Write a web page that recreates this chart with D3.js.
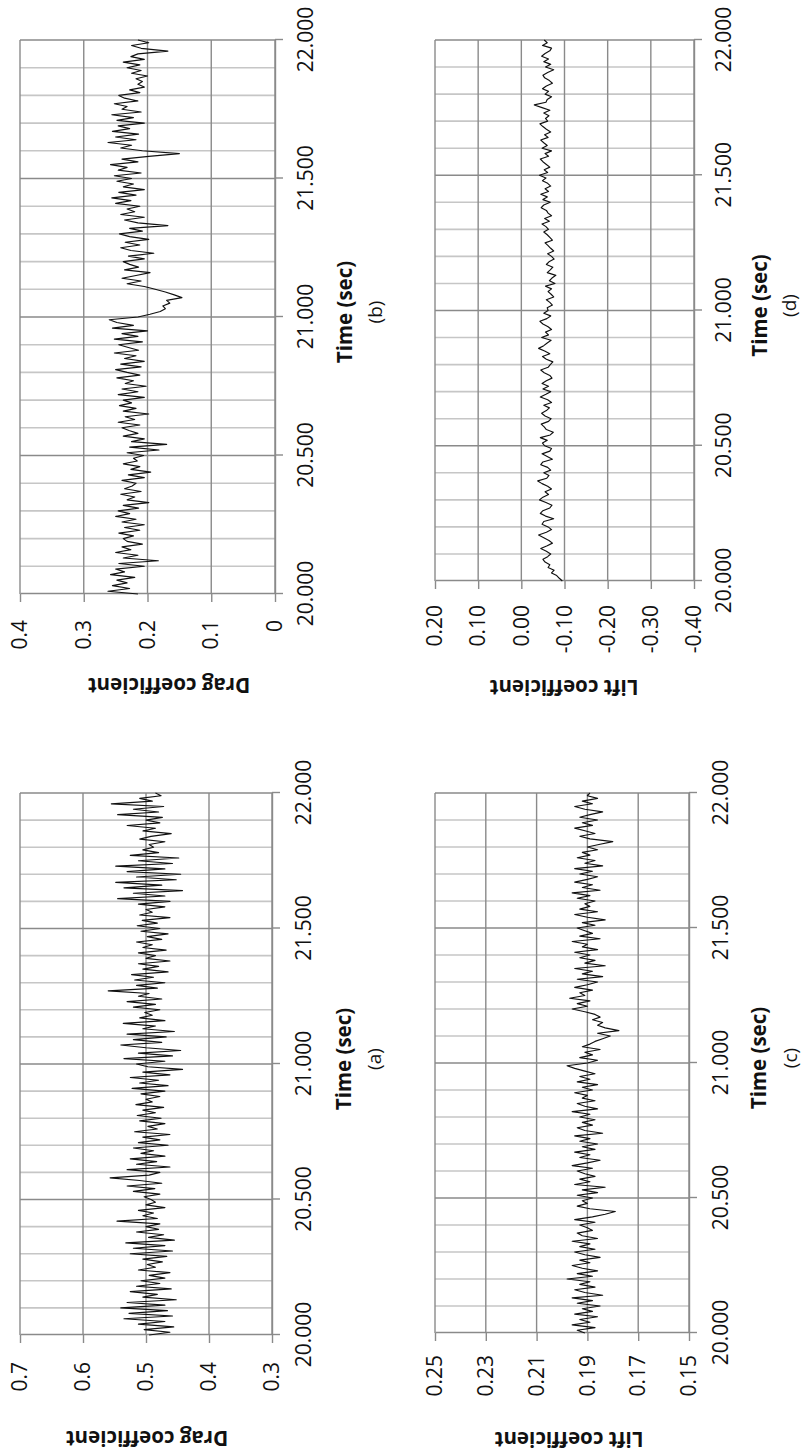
<!DOCTYPE html>
<html>
<head>
<meta charset="utf-8">
<script src="https://cdn.jsdelivr.net/npm/d3@7"></script>
<style>
  html, body { margin: 0; padding: 0; background: #fff; }
  svg { display: block; }
</style>
</head>
<body>
<svg id="fig" width="806" height="1455"></svg>
<script>
// Sampling of the force-coefficient records (seconds)
const timeStart = 20.0;
const timeStep = 0.01;
const timeTicks = [20.0, 20.5, 21.0, 21.5, 22.0];
const timeMinorTicks = [20.1, 20.2, 20.3, 20.4, 20.6, 20.7, 20.8, 20.9,
                        21.1, 21.2, 21.3, 21.4, 21.6, 21.7, 21.8, 21.9];

// (a) drag coefficient, 20.00 s .. 22.00 s every 0.01 s
const dragA = [
  0.495, 0.462, 0.503, 0.456, 0.512, 0.470, 0.535, 0.458, 0.527, 0.466,
  0.540, 0.470, 0.530, 0.452, 0.505, 0.482, 0.525, 0.460, 0.515, 0.478,
  0.508, 0.470, 0.495, 0.462, 0.512, 0.485, 0.498, 0.474, 0.505, 0.467,
  0.525, 0.458, 0.520, 0.470, 0.532, 0.455, 0.496, 0.472, 0.515, 0.480,
  0.500, 0.478, 0.546, 0.482, 0.505, 0.488, 0.512, 0.470, 0.500, 0.485,
  0.492, 0.503, 0.478, 0.520, 0.486, 0.530, 0.475, 0.510, 0.557, 0.495,
  0.478, 0.530, 0.462, 0.515, 0.483, 0.525, 0.470, 0.508, 0.488, 0.520,
  0.465, 0.512, 0.478, 0.505, 0.462, 0.518, 0.482, 0.497, 0.470, 0.510,
  0.476, 0.514, 0.485, 0.505, 0.472, 0.516, 0.490, 0.500, 0.478, 0.508,
  0.470, 0.522, 0.465, 0.510, 0.480, 0.525, 0.462, 0.505, 0.442, 0.497,
  0.515, 0.470, 0.535, 0.458, 0.512, 0.445, 0.500, 0.540, 0.475, 0.520,
  0.468, 0.530, 0.455, 0.505, 0.485, 0.536, 0.470, 0.510, 0.490, 0.502,
  0.478, 0.520, 0.485, 0.530, 0.475, 0.512, 0.495, 0.560, 0.482, 0.515,
  0.470, 0.518, 0.488, 0.523, 0.465, 0.505, 0.480, 0.512, 0.462, 0.500,
  0.485, 0.512, 0.468, 0.505, 0.490, 0.515, 0.475, 0.498, 0.465, 0.508,
  0.478, 0.514, 0.482, 0.506, 0.462, 0.510, 0.490, 0.500, 0.470, 0.512,
  0.462, 0.545, 0.470, 0.520, 0.442, 0.535, 0.475, 0.548, 0.452, 0.515,
  0.445, 0.530, 0.470, 0.548, 0.458, 0.512, 0.448, 0.525, 0.480, 0.505,
  0.488, 0.495, 0.470, 0.510, 0.492, 0.460, 0.505, 0.485, 0.530, 0.478,
  0.500, 0.474, 0.545, 0.480, 0.520, 0.472, 0.555, 0.490, 0.510, 0.476,
  0.485
];

// (b) drag coefficient
const dragB = [
  0.215, 0.262, 0.228, 0.255, 0.232, 0.248, 0.220, 0.258, 0.236, 0.250,
  0.205, 0.245, 0.183, 0.238, 0.215, 0.250, 0.226, 0.240, 0.208, 0.232,
  0.238, 0.222, 0.245, 0.212, 0.236, 0.205, 0.240, 0.218, 0.250, 0.228,
  0.246, 0.214, 0.238, 0.198, 0.232, 0.220, 0.242, 0.210, 0.236, 0.224,
  0.218, 0.240, 0.205, 0.230, 0.195, 0.226, 0.212, 0.238, 0.216, 0.222,
  0.206, 0.232, 0.182, 0.228, 0.170, 0.225, 0.205, 0.238, 0.215, 0.229,
  0.240, 0.212, 0.246, 0.220, 0.235, 0.198, 0.238, 0.218, 0.244, 0.225,
  0.238, 0.205, 0.246, 0.215, 0.240, 0.202, 0.235, 0.222, 0.248, 0.212,
  0.232, 0.250, 0.210, 0.242, 0.205, 0.236, 0.218, 0.252, 0.214, 0.230,
  0.245, 0.208, 0.252, 0.215, 0.240, 0.200, 0.255, 0.222, 0.248, 0.260,
  0.215, 0.196, 0.180, 0.172, 0.176, 0.165, 0.170, 0.146, 0.158, 0.172,
  0.188, 0.205, 0.232, 0.210, 0.240, 0.218, 0.196, 0.236, 0.214, 0.228,
  0.238, 0.205, 0.230, 0.190, 0.226, 0.242, 0.212, 0.235, 0.198, 0.228,
  0.244, 0.208, 0.228, 0.168, 0.215, 0.236, 0.205, 0.242, 0.220, 0.232,
  0.212, 0.250, 0.226, 0.256, 0.218, 0.245, 0.205, 0.238, 0.222, 0.248,
  0.225, 0.252, 0.210, 0.246, 0.232, 0.258, 0.215, 0.240, 0.198, 0.150,
  0.208, 0.242, 0.225, 0.262, 0.218, 0.250, 0.214, 0.255, 0.228, 0.246,
  0.205, 0.248, 0.222, 0.256, 0.210, 0.240, 0.232, 0.252, 0.215, 0.236,
  0.245, 0.212, 0.228, 0.205, 0.215, 0.208, 0.218, 0.200, 0.225, 0.210,
  0.232, 0.212, 0.238, 0.205, 0.226, 0.215, 0.168, 0.210, 0.225, 0.198,
  0.215
];

// (c) lift coefficient
const liftC = [
  0.191, 0.194, 0.187, 0.196, 0.189, 0.193, 0.186, 0.195, 0.188, 0.192,
  0.185, 0.194, 0.188, 0.196, 0.184, 0.191, 0.195, 0.187, 0.193, 0.189,
  0.198, 0.188, 0.194, 0.186, 0.192, 0.196, 0.189, 0.193, 0.185, 0.191,
  0.195, 0.187, 0.193, 0.189, 0.196, 0.186, 0.192, 0.194, 0.188, 0.190,
  0.193, 0.187, 0.195, 0.188, 0.183, 0.179, 0.189, 0.194, 0.190, 0.192,
  0.188, 0.194, 0.186, 0.192, 0.183, 0.195, 0.189, 0.193, 0.187, 0.191,
  0.194, 0.188, 0.196, 0.190, 0.185, 0.193, 0.189, 0.195, 0.187, 0.192,
  0.186, 0.193, 0.189, 0.195, 0.184, 0.191, 0.194, 0.188, 0.192, 0.187,
  0.193, 0.189, 0.196, 0.186, 0.191, 0.194, 0.187, 0.192, 0.190, 0.195,
  0.188, 0.192, 0.186, 0.194, 0.189, 0.193, 0.187, 0.191, 0.195, 0.198,
  0.190, 0.186, 0.193, 0.188, 0.191, 0.185, 0.192, 0.189, 0.187, 0.184,
  0.181, 0.186, 0.1776, 0.183, 0.186, 0.184, 0.188, 0.185, 0.187, 0.191,
  0.196, 0.190, 0.194, 0.189, 0.197, 0.191, 0.193, 0.188, 0.195, 0.190,
  0.186, 0.194, 0.184, 0.192, 0.188, 0.195, 0.183, 0.191, 0.187, 0.193,
  0.189, 0.195, 0.186, 0.192, 0.190, 0.196, 0.185, 0.193, 0.188, 0.191,
  0.194, 0.187, 0.192, 0.183, 0.190, 0.195, 0.186, 0.193, 0.189, 0.191,
  0.187, 0.194, 0.189, 0.196, 0.185, 0.192, 0.188, 0.195, 0.190, 0.186,
  0.193, 0.188, 0.195, 0.184, 0.191, 0.187, 0.194, 0.189, 0.192, 0.186,
  0.190, 0.185, 0.180, 0.189, 0.193, 0.187, 0.191, 0.195, 0.188, 0.192,
  0.186, 0.193, 0.189, 0.184, 0.191, 0.195, 0.188, 0.192, 0.186, 0.190,
  0.189
];

// (d) lift coefficient
const liftD = [
  -0.095, -0.088, -0.082, -0.070, -0.076, -0.062, -0.066, -0.055, -0.050, -0.061,
  -0.068, -0.058, -0.045, -0.060, -0.072, -0.064, -0.052, -0.040, -0.058, -0.070,
  -0.062, -0.048, -0.052, -0.075, -0.056, -0.044, -0.050, -0.066, -0.071, -0.057,
  -0.042, -0.050, -0.063, -0.055, -0.070, -0.061, -0.048, -0.038, -0.059, -0.064,
  -0.052, -0.068, -0.061, -0.045, -0.050, -0.072, -0.060, -0.048, -0.066, -0.070,
  -0.054, -0.049, -0.060, -0.044, -0.067, -0.074, -0.058, -0.053, -0.046, -0.063,
  -0.069, -0.055, -0.047, -0.058, -0.065, -0.052, -0.070, -0.061, -0.044, -0.057,
  -0.068, -0.050, -0.063, -0.048, -0.058, -0.071, -0.066, -0.053, -0.045, -0.062,
  -0.067, -0.073, -0.058, -0.049, -0.066, -0.054, -0.040, -0.052, -0.060, -0.069,
  -0.047, -0.063, -0.056, -0.070, -0.062, -0.050, -0.043, -0.059, -0.068, -0.052,
  -0.062, -0.060, -0.072, -0.066, -0.058, -0.075, -0.069, -0.062, -0.070, -0.056,
  -0.078, -0.065, -0.071, -0.080, -0.060, -0.067, -0.073, -0.058, -0.064, -0.076,
  -0.070, -0.061, -0.075, -0.068, -0.062, -0.055, -0.072, -0.066, -0.060, -0.052,
  -0.063, -0.057, -0.048, -0.065, -0.054, -0.070, -0.062, -0.058, -0.046, -0.052,
  -0.067, -0.050, -0.060, -0.045, -0.063, -0.055, -0.068, -0.061, -0.049, -0.057,
  -0.042, -0.061, -0.053, -0.066, -0.058, -0.050, -0.044, -0.063, -0.055, -0.070,
  -0.048, -0.060, -0.052, -0.045, -0.062, -0.054, -0.068, -0.058, -0.050, -0.043,
  -0.061, -0.056, -0.064, -0.052, -0.066, -0.048, -0.030, -0.057, -0.060, -0.070,
  -0.055, -0.063, -0.049, -0.058, -0.072, -0.065, -0.054, -0.050, -0.061, -0.075,
  -0.056, -0.068, -0.052, -0.063, -0.047, -0.055, -0.066, -0.070, -0.049, -0.060,
  -0.053
];

// Value-axis ticks of each panel
const dragATicks = [0.3, 0.4, 0.5, 0.6, 0.7];
const dragBTicks = [0, 0.1, 0.2, 0.3, 0.4];
const liftCTicks = [0.15, 0.17, 0.19, 0.21, 0.23, 0.25];
const liftDTicks = [-0.4, -0.3, -0.2, -0.1, 0, 0.1, 0.2];

const dragTitle = "Drag coefficient";
const liftTitle = "Lift coefficient";
const timeTitle = "Time (sec)";

const fmt1 = d => (d === 0 ? "0" : d.toFixed(1));
const fmt2 = d => d.toFixed(2);

// Each panel is laid out in its own frame (time across, value up) and
// the frame is turned a quarter turn counter-clockwise on the page.
const panels = [
  { values: dragA, ticks: dragATicks, fmt: fmt1, title: dragTitle, tag: "(a)",
    left: 20, bottom: 1335, w: 542, h: 252,
    yPad: 19, xPad: 16, titleX: -96, titleY: 127, timeBase: 79, tagBase: 109 },
  { values: dragB, ticks: dragBTicks, fmt: fmt1, title: dragTitle, tag: "(b)",
    left: 20, bottom: 594, w: 554, h: 255,
    yPad: 18, xPad: 15, titleX: -84, titleY: 149, timeBase: 77, tagBase: 107 },
  { values: liftC, ticks: liftCTicks, fmt: fmt2, title: liftTitle, tag: "(c)",
    left: 435, bottom: 1333, w: 540, h: 254,
    yPad: 14, xPad: 16, titleX: -99, titleY: 134, timeBase: 77, tagBase: 108 },
  { values: liftD, ticks: liftDTicks, fmt: fmt2, title: liftTitle, tag: "(d)",
    left: 435, bottom: 581, w: 541, h: 259,
    yPad: 16, xPad: 14, titleX: -99, titleY: 129, timeBase: 73, tagBase: 102 }
];

const svg = d3.select("#fig");
const FONT = "'Open Sans', 'DejaVu Sans', sans-serif";
const TEXT = "#111";
const GRID = "#8a8a8a";
const MINOR = "#c6c6c6";

function drawPanel(p) {
  const g = svg.append("g")
    .attr("transform", `translate(${p.left},${p.bottom}) rotate(-90)`);

  const x = d3.scaleLinear()
    .domain([timeTicks[0], timeTicks[timeTicks.length - 1]])
    .range([0, p.w]);
  const y = d3.scaleLinear()
    .domain(d3.extent(p.ticks))
    .range([p.h, 0]);

  // minor time gridlines
  g.append("g").selectAll("line").data(timeMinorTicks).join("line")
    .attr("x1", d => x(d)).attr("x2", d => x(d))
    .attr("y1", 0).attr("y2", p.h)
    .attr("stroke", MINOR).attr("stroke-width", 1.6);

  // major time gridlines
  g.append("g").selectAll("line").data(timeTicks.slice(1)).join("line")
    .attr("x1", d => x(d)).attr("x2", d => x(d))
    .attr("y1", 0).attr("y2", p.h)
    .attr("stroke", GRID).attr("stroke-width", 1.4);

  // value gridlines
  g.append("g").selectAll("line").data(p.ticks).join("line")
    .attr("x1", 0).attr("x2", p.w)
    .attr("y1", d => y(d)).attr("y2", d => y(d))
    .attr("stroke", GRID).attr("stroke-width", 1.4);

  // value axis
  const yAxis = g.append("g")
    .call(d3.axisLeft(y).tickValues(p.ticks).tickSize(8).tickSizeOuter(0)
      .tickPadding(p.yPad).tickFormat(p.fmt));
  // time axis
  const xAxis = g.append("g").attr("transform", `translate(0,${p.h})`)
    .call(d3.axisBottom(x).tickValues(timeTicks).tickSize(8).tickSizeOuter(0)
      .tickPadding(p.xPad).tickFormat(d => d.toFixed(3)));

  [yAxis, xAxis].forEach(a => {
    a.attr("font-family", FONT).attr("font-size", 21);
    a.select(".domain").attr("stroke", GRID).attr("stroke-width", 1.4);
    a.selectAll(".tick line").attr("stroke", GRID).attr("stroke-width", 1.4);
    a.selectAll(".tick text").attr("fill", TEXT);
  });

  // record
  const line = d3.line()
    .x((d, i) => x(timeStart + i * timeStep))
    .y(d => y(d));
  g.append("path")
    .datum(p.values)
    .attr("d", line)
    .attr("fill", "none")
    .attr("stroke", "#111")
    .attr("stroke-width", 1.15)
    .attr("stroke-linejoin", "round");

  // value-axis title
  g.append("text")
    .attr("transform", `translate(${p.titleX},${p.titleY}) rotate(-90)`)
    .attr("text-anchor", "middle")
    .attr("font-family", FONT).attr("font-weight", "bold").attr("font-size", 20.5)
    .attr("fill", TEXT)
    .text(p.title);

  // time-axis title and panel tag
  g.append("text")
    .attr("x", p.w / 2 + 5).attr("y", p.h + p.timeBase)
    .attr("text-anchor", "middle")
    .attr("font-family", FONT).attr("font-weight", "bold").attr("font-size", 20.5)
    .attr("fill", TEXT)
    .text(timeTitle);
  g.append("text")
    .attr("x", p.w / 2 + 5).attr("y", p.h + p.tagBase)
    .attr("text-anchor", "middle")
    .attr("font-family", FONT).attr("font-size", 19)
    .attr("fill", TEXT)
    .text(p.tag);
}

panels.forEach(drawPanel);
</script>
</body>
</html>
